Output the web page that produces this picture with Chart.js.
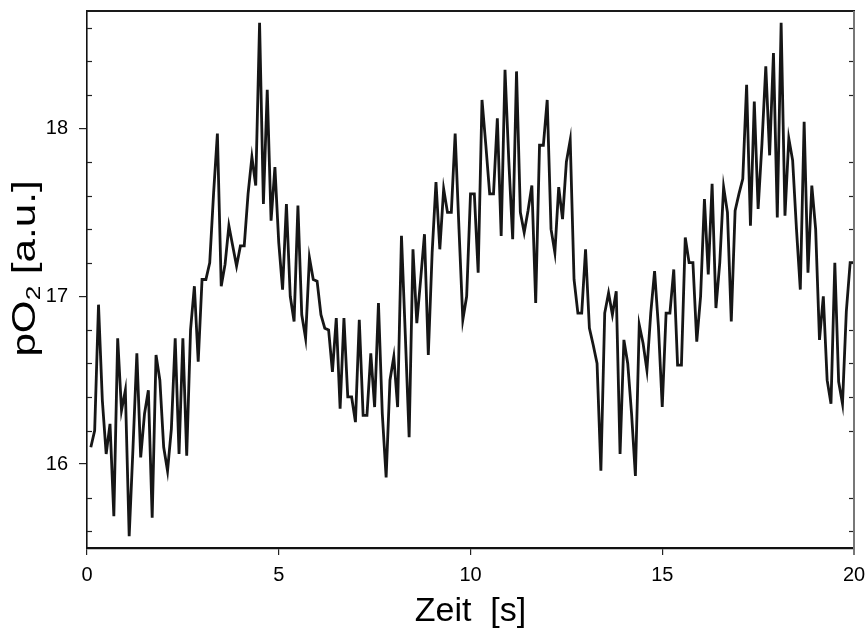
<!DOCTYPE html>
<html>
<head>
<meta charset="utf-8">
<script src="https://cdn.jsdelivr.net/npm/chart.js@4/dist/chart.umd.min.js"></script>
<style>
  html, body { margin: 0; padding: 0; background: #fff; }
  canvas { display: block; }
</style>
</head>
<body>
<canvas id="c" width="867" height="638"></canvas>
<script>
// Sample times in seconds
const zeit = [
  0.1, 0.2, 0.3, 0.4, 0.5, 0.6, 0.7, 0.8, 0.9, 1.0,
  1.1, 1.2, 1.3, 1.4, 1.5, 1.6, 1.7, 1.8, 1.9, 2.0,
  2.1, 2.2, 2.3, 2.4, 2.5, 2.6, 2.7, 2.8, 2.9, 3.0,
  3.1, 3.2, 3.3, 3.4, 3.5, 3.6, 3.7, 3.8, 3.9, 4.0,
  4.1, 4.2, 4.3, 4.4, 4.5, 4.6, 4.7, 4.8, 4.9, 5.0,
  5.1, 5.2, 5.3, 5.4, 5.5, 5.6, 5.7, 5.8, 5.9, 6.0,
  6.1, 6.2, 6.3, 6.4, 6.5, 6.6, 6.7, 6.8, 6.9, 7.0,
  7.1, 7.2, 7.3, 7.4, 7.5, 7.6, 7.7, 7.8, 7.9, 8.0,
  8.1, 8.2, 8.3, 8.4, 8.5, 8.6, 8.7, 8.8, 8.9, 9.0,
  9.1, 9.2, 9.3, 9.4, 9.5, 9.6, 9.7, 9.8, 9.9, 10.0,
  10.1, 10.2, 10.3, 10.4, 10.5, 10.6, 10.7, 10.8, 10.9, 11.0,
  11.1, 11.2, 11.3, 11.4, 11.5, 11.6, 11.7, 11.8, 11.9, 12.0,
  12.1, 12.2, 12.3, 12.4, 12.5, 12.6, 12.7, 12.8, 12.9, 13.0,
  13.1, 13.2, 13.3, 13.4, 13.5, 13.6, 13.7, 13.8, 13.9, 14.0,
  14.1, 14.2, 14.3, 14.4, 14.5, 14.6, 14.7, 14.8, 14.9, 15.0,
  15.1, 15.2, 15.3, 15.4, 15.5, 15.6, 15.7, 15.8, 15.9, 16.0,
  16.1, 16.2, 16.3, 16.4, 16.5, 16.6, 16.7, 16.8, 16.9, 17.0,
  17.1, 17.2, 17.3, 17.4, 17.5, 17.6, 17.7, 17.8, 17.9, 18.0,
  18.1, 18.2, 18.3, 18.4, 18.5, 18.6, 18.7, 18.8, 18.9, 19.0,
  19.1, 19.2, 19.3, 19.4, 19.5, 19.6, 19.7, 19.8, 19.9, 20.0
];

// Oxygen partial pressure, arbitrary units
const pO2 = [
  16.10, 16.20, 16.95, 16.38, 16.06, 16.24, 15.69, 16.75, 16.32, 16.44,
  15.57, 16.10, 16.66, 16.04, 16.30, 16.44, 15.68, 16.65, 16.50, 16.10,
  15.96, 16.21, 16.75, 16.06, 16.75, 16.05, 16.80, 17.06, 16.61, 17.10,
  17.10, 17.20, 17.61, 17.97, 17.06, 17.19, 17.42, 17.30, 17.18, 17.30,
  17.30, 17.61, 17.83, 17.66, 18.63, 17.55, 18.23, 17.45, 17.77, 17.32,
  17.04, 17.55, 17.00, 16.85, 17.54, 16.89, 16.75, 17.23, 17.10, 17.09,
  16.89, 16.81, 16.80, 16.55, 16.87, 16.33, 16.87, 16.40, 16.40, 16.25,
  16.86, 16.29, 16.29, 16.66, 16.34, 16.96, 16.30, 15.92, 16.50, 16.64,
  16.34, 17.36, 16.77, 16.16, 17.28, 16.84, 17.10, 17.37, 16.65, 17.26,
  17.68, 17.28, 17.64, 17.50, 17.50, 17.97, 17.40, 16.86, 17.00, 17.61,
  17.61, 17.14, 18.17, 17.90, 17.61, 17.61, 18.06, 17.36, 18.35, 17.80,
  17.34, 18.34, 17.50, 17.38, 17.51, 17.66, 16.96, 17.90, 17.90, 18.17,
  17.40, 17.26, 17.65, 17.46, 17.80, 17.93, 17.10, 16.90, 16.90, 17.28,
  16.81, 16.71, 16.60, 15.96, 16.90, 17.02, 16.89, 17.03, 16.06, 16.74,
  16.60, 16.30, 15.93, 16.83, 16.72, 16.56, 16.90, 17.15, 16.82, 16.34,
  16.90, 16.90, 17.16, 16.59, 16.59, 17.35, 17.20, 17.20, 16.73, 17.00,
  17.58, 17.13, 17.67, 16.93, 17.20, 17.65, 17.50, 16.85, 17.51, 17.61,
  17.70, 18.26, 17.42, 18.16, 17.52, 17.91, 18.37, 17.84, 18.45, 17.47,
  18.63, 17.48, 17.94, 17.81, 17.40, 17.04, 18.04, 17.14, 17.66, 17.40,
  16.74, 17.00, 16.50, 16.36, 17.20, 16.49, 16.36, 16.91, 17.20, 17.20
];

// Axis ticks
const xTicks = [0, 5, 10, 15, 20];
const yTicks = [16, 17, 18];
const yMinorTicks = [15.6, 15.8, 16.2, 16.4, 16.6, 16.8, 17.2, 17.4, 17.6, 17.8, 18.2, 18.4, 18.6];

const points = zeit.map((t, i) => ({ x: t, y: pO2[i] }));

const FONT = "'Liberation Sans', Arial, sans-serif";

// Closes the plot box, adds the short inward minor ticks on both sides
// and writes the y-axis title with a subscript 2
const boxPlugin = {
  id: 'box',
  beforeDraw(chart) {
    const ctx = chart.ctx;
    ctx.save();
    ctx.fillStyle = '#fff';
    ctx.fillRect(0, 0, chart.width, chart.height);
    ctx.restore();
  },
  afterDraw(chart) {
    const { ctx, chartArea: a, scales: { y } } = chart;
    ctx.save();
    ctx.lineWidth = 1.2;
    ctx.strokeStyle = '#222';
    yMinorTicks.forEach(v => {
      const py = Math.round(y.getPixelForValue(v)) + 0.5;
      ctx.beginPath();
      ctx.moveTo(a.left, py);
      ctx.lineTo(a.left + 5, py);
      ctx.stroke();
      ctx.beginPath();
      ctx.moveTo(a.right, py);
      ctx.lineTo(a.right - 5, py);
      ctx.stroke();
    });
    // top edge
    ctx.lineWidth = 2.2;
    ctx.strokeStyle = '#1a1a1a';
    ctx.beginPath();
    ctx.moveTo(a.left - 1, a.top);
    ctx.lineTo(a.right + 1, a.top);
    ctx.stroke();
    // right edge
    ctx.lineWidth = 2;
    ctx.strokeStyle = '#777';
    ctx.beginPath();
    ctx.moveTo(a.right, a.top);
    ctx.lineTo(a.right, a.bottom + 7);
    ctx.stroke();
    ctx.restore();

    // y-axis title: "pO" + subscript "2" + " [a.u.]"
    const size = 34, subSize = 21, stretch = 1.24;
    ctx.save();
    ctx.fillStyle = '#000';
    ctx.textBaseline = 'alphabetic';
    ctx.font = size + 'px ' + FONT;
    const w1 = ctx.measureText('pO').width;
    const w3 = ctx.measureText(' [a.u.]').width;
    ctx.font = subSize + 'px ' + FONT;
    const w2 = ctx.measureText('2').width;
    const total = w1 + w2 + w3;
    const cx = 35, cy = (a.top + a.bottom) / 2 - 11;
    ctx.translate(cx, cy);
    ctx.rotate(-Math.PI / 2);
    ctx.scale(stretch, 1);
    let x = -total / 2;
    ctx.font = size + 'px ' + FONT;
    ctx.fillText('pO', x, 0);
    x += w1;
    ctx.font = subSize + 'px ' + FONT;
    ctx.fillText('2', x, 5);
    x += w2;
    ctx.font = size + 'px ' + FONT;
    ctx.fillText(' [a.u.]', x, 0);
    ctx.restore();
  }
};

new Chart(document.getElementById('c'), {
  type: 'line',
  data: {
    datasets: [{
      data: points,
      borderColor: '#161616',
      borderWidth: 2.8,
      pointRadius: 0,
      tension: 0,
      fill: false
    }]
  },
  options: {
    responsive: false,
    animation: false,
    devicePixelRatio: 1,
    layout: { padding: { top: 11, right: 13, left: 0, bottom: 0 } },
    plugins: { legend: { display: false }, tooltip: { enabled: false } },
    scales: {
      x: {
        type: 'linear',
        min: 0,
        max: 20,
        afterBuildTicks: s => { s.ticks = xTicks.map(v => ({ value: v })); },
        afterFit: s => { s.height = 90; s.paddingLeft = 0; s.paddingRight = 0; },
        grid: { drawOnChartArea: false, drawTicks: true, tickLength: 7, color: '#222', lineWidth: 1.2 },
        border: { display: true, color: '#111', width: 2.2 },
        ticks: { color: '#000', font: { family: FONT, size: 20 }, padding: 8, maxRotation: 0 },
        title: { display: true, text: 'Zeit  [s]', color: '#000', font: { family: FONT, size: 34 }, padding: { top: 0, bottom: 6 } }
      },
      y: {
        type: 'linear',
        min: 15.5,
        max: 18.7,
        afterBuildTicks: s => { s.ticks = yTicks.map(v => ({ value: v })); },
        afterFit: s => { s.width = 87; s.paddingTop = 0; s.paddingBottom = 0; },
        grid: { drawOnChartArea: false, drawTicks: true, tickLength: 8, color: '#222', lineWidth: 1.2 },
        border: { display: true, color: '#111', width: 1.6 },
        ticks: { color: '#000', font: { family: FONT, size: 20 }, padding: 11 },
        title: { display: false }
      }
    }
  },
  plugins: [boxPlugin]
});
</script>
</body>
</html>
